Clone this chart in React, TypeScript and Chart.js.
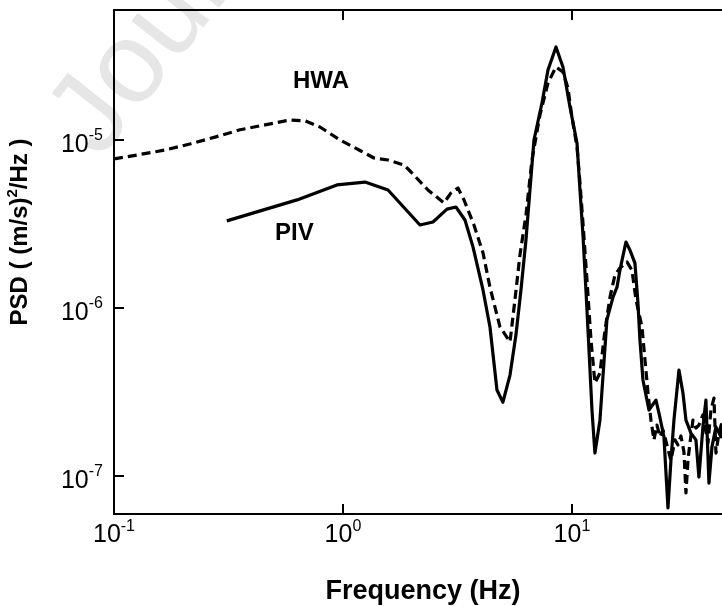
import { useEffect, useRef } from 'react';
import { Chart, registerables } from 'chart.js';

Chart.register(...registerables);

// ---- data ----
const hwaFreq = [
  0.1, 0.126, 0.167, 0.2147, 0.2761, 0.3549, 0.4563, 0.587, 0.6823, 0.7934,
  0.97, 1.198, 1.366, 1.573, 1.846, 1.982, 2.35, 2.761, 2.962, 3.178,
  3.376, 3.733, 4.088, 4.385, 4.849, 5.363, 5.637, 5.928, 6.297, 6.689,
  7.249, 7.857, 8.515, 9.135, 9.606, 10.0, 10.52, 10.84, 11.17, 11.63,
  12.11, 12.6, 13.25, 13.94, 14.66, 15.41, 16.2, 17.39, 18.28, 19.04,
  20.22, 20.84, 21.47, 22.13, 22.81, 23.51, 24.23, 24.97, 25.99, 27.06,
  28.18, 29.04, 29.92, 30.84, 31.47, 32.11, 32.76, 33.76, 34.79, 35.85,
  37.33, 38.47, 39.26, 40.46, 41.7, 42.55, 43.85, 45.19, 47.05, 48.98, 51.0,
];
const hwaPsd = [
  7.71e-6, 8.14e-6, 8.72e-6, 9.47e-6, 1.04e-5, 1.15e-5, 1.23e-5, 1.315e-5, 1.3e-5, 1.195e-5,
  1.0e-5, 8.6e-6, 7.81e-6, 7.6e-6, 7.1e-6, 6.45e-6, 5.04e-6, 4.22e-6, 4.84e-6, 5.18e-6,
  4.4e-6, 3.12e-6, 2.13e-6, 1.33e-6, 7.71e-7, 6.28e-7, 1.12e-6, 2.07e-6, 3.58e-6, 7.6e-6,
  1.41e-5, 2.18e-5, 2.72e-5, 2.54e-5, 2.04e-5, 1.37e-5, 9.09e-6, 5.55e-6, 3.21e-6, 1.47e-6,
  6.45e-7, 3.58e-7, 4.1e-7, 7.39e-7, 1.16e-6, 1.57e-6, 1.73e-6, 1.88e-6, 1.68e-6, 1.12e-6,
  7.71e-7, 4.9e-7, 3.16e-7, 2.15e-7, 1.64e-7, 2.01e-7, 1.71e-7, 1.88e-7, 1.53e-7, 1.24e-7,
  1.64e-7, 1.53e-7, 1.73e-7, 1.39e-7, 7.93e-8, 1.24e-7, 1.57e-7, 2.15e-7, 1.93e-7, 2.01e-7,
  2.31e-7, 1.83e-7, 1.57e-7, 2.47e-7, 2.91e-7, 1.37e-7, 1.8e-7, 2.09e-7, 1.43e-7, 2.21e-7, 1.64e-7,
];

const pivFreq = [
  0.311, 0.63, 0.941, 1.248, 1.573, 2.169, 2.472, 2.846, 3.114, 3.41,
  3.696, 4.088, 4.385, 4.704, 4.995, 5.363, 5.693, 5.988, 6.297, 6.556,
  6.826, 7.396, 7.857, 8.515, 9.135, 9.802, 10.52, 10.84, 11.17, 11.51,
  11.87, 12.23, 12.6, 13.25, 14.21, 15.11, 15.73, 16.2, 17.21, 17.92,
  18.84, 19.42, 19.81, 20.42, 21.69, 23.27, 23.99, 25.22, 26.26, 27.06,
  27.89, 29.33, 30.53, 31.47, 33.09, 34.79, 35.85, 37.33, 38.47, 39.65,
  40.88, 42.55, 44.74, 46.57, 48.5, 50.5,
];
const pivPsd = [
  3.3e-6, 4.4e-6, 5.4e-6, 5.62e-6, 5.04e-6, 3.12e-6, 3.25e-6, 3.88e-6, 3.99e-6, 3.34e-6,
  2.31e-6, 1.28e-6, 7.71e-7, 3.25e-7, 2.75e-7, 3.99e-7, 6.9e-7, 1.28e-6, 2.54e-6, 5.04e-6,
  1.0e-5, 1.66e-5, 2.61e-5, 3.58e-5, 2.72e-5, 1.57e-5, 9.6e-6, 5.04e-6, 2.72e-6, 1.28e-6,
  5.62e-7, 2.47e-7, 1.37e-7, 2.15e-7, 8.49e-7, 1.16e-6, 1.33e-6, 1.68e-6, 2.47e-6, 2.21e-6,
  1.85e-6, 1.07e-6, 6.45e-7, 3.73e-7, 2.47e-7, 2.83e-7, 2.37e-7, 1.71e-7, 6.45e-8, 1.24e-7,
  2.15e-7, 4.27e-7, 3.12e-7, 2.15e-7, 1.8e-7, 1.64e-7, 9.86e-8, 1.96e-7, 2.83e-7, 9.08e-8,
  1.49e-7, 1.96e-7, 1.71e-7, 2.15e-7, 1.43e-7, 1.88e-7,
];

const xTickValues = [0.1, 1, 10];
const xTickExps = ['-1', '0', '1'];
const yTickValues = [1e-7, 1e-6, 1e-5];
const yTickExps = ['-7', '-6', '-5'];

const xMin = 0.1;
const xMax = 50;
const yMin = 5.94e-8;
const yMax = 5.94e-5;

const hwaLabel = { text: 'HWA', x: 0.605, y: 2.04e-5 };
const pivLabel = { text: 'PIV', x: 0.505, y: 2.54e-6 };

const xTitle = 'Frequency (Hz)';
const yTitleParts = ['PSD ( (m/s)', '2', '/Hz )'];
const watermark = 'Journal Pre-proof';

const W = 760;
const H = 606;
const FONT = '"Liberation Sans", Arial, Helvetica, sans-serif';

const decor = {
  id: 'decor',
  beforeDatasetsDraw(chart: any) {
    const ctx = chart.ctx as CanvasRenderingContext2D;
    ctx.save();
    ctx.translate(100, 160);
    ctx.rotate((-52 * Math.PI) / 180);
    ctx.fillStyle = '#e6e6e6';
    ctx.font = `115px ${FONT}`;
    ctx.textAlign = 'left';
    ctx.textBaseline = 'alphabetic';
    ctx.fillText(watermark, 0, 0);
    ctx.restore();
  },
  afterDraw(chart: any) {
    const ctx = chart.ctx as CanvasRenderingContext2D;
    const { left, right, top, bottom } = chart.chartArea;
    const xs = chart.scales.x;
    const ys = chart.scales.y;
    ctx.save();
    ctx.strokeStyle = '#000';
    ctx.fillStyle = '#000';
    ctx.lineWidth = 2;
    ctx.lineCap = 'square';
    ctx.beginPath();
    ctx.moveTo(left, top);
    ctx.lineTo(right, top);
    ctx.lineTo(right, bottom);
    ctx.lineTo(left, bottom);
    ctx.closePath();
    ctx.stroke();

    ctx.lineCap = 'butt';
    const tl = 10;
    xTickValues.forEach((v) => {
      const px = Math.round(xs.getPixelForValue(v));
      if (px <= left + 1) return;
      ctx.beginPath();
      ctx.moveTo(px, bottom);
      ctx.lineTo(px, bottom - tl);
      ctx.moveTo(px, top);
      ctx.lineTo(px, top + tl);
      ctx.stroke();
    });
    yTickValues.forEach((v) => {
      const py = Math.round(ys.getPixelForValue(v));
      ctx.beginPath();
      ctx.moveTo(left, py);
      ctx.lineTo(left + tl, py);
      ctx.moveTo(right, py);
      ctx.lineTo(right - tl, py);
      ctx.stroke();
    });

    const baseFont = `25px ${FONT}`;
    const expFont = `16px ${FONT}`;
    ctx.textBaseline = 'alphabetic';
    ctx.textAlign = 'left';
    // x tick labels
    xTickValues.forEach((v, i) => {
      const px = xs.getPixelForValue(v);
      ctx.font = baseFont;
      const bw = ctx.measureText('10').width;
      ctx.font = expFont;
      const ew = ctx.measureText(xTickExps[i]).width;
      const x0 = px - (bw + ew) / 2;
      ctx.font = baseFont;
      ctx.fillText('10', x0, bottom + 28);
      ctx.font = expFont;
      ctx.fillText(xTickExps[i], x0 + bw, bottom + 17);
    });
    // y tick labels
    yTickValues.forEach((v, i) => {
      const py = ys.getPixelForValue(v);
      ctx.font = baseFont;
      const bw = ctx.measureText('10').width;
      ctx.font = expFont;
      const ew = ctx.measureText(yTickExps[i]).width;
      const xr = left - 11;
      ctx.font = baseFont;
      ctx.fillText('10', xr - ew - bw, py + 12);
      ctx.font = expFont;
      ctx.fillText(yTickExps[i], xr - ew, py + 0);
    });

    // x title
    ctx.font = `bold 27px ${FONT}`;
    ctx.textAlign = 'center';
    ctx.fillText(xTitle, (left + right) / 2, 599);

    // y title (rotated, with superscript)
    ctx.save();
    ctx.translate(27, 232);
    ctx.rotate(-Math.PI / 2);
    ctx.textAlign = 'left';
    const tf = `bold 24px ${FONT}`;
    const sf = `bold 15px ${FONT}`;
    ctx.font = tf;
    const w0 = ctx.measureText(yTitleParts[0]).width;
    const w2 = ctx.measureText(yTitleParts[2]).width;
    ctx.font = sf;
    const w1 = ctx.measureText(yTitleParts[1]).width;
    let x = -(w0 + w1 + w2) / 2;
    ctx.font = tf;
    ctx.fillText(yTitleParts[0], x, 0);
    x += w0;
    ctx.font = sf;
    ctx.fillText(yTitleParts[1], x, -10);
    x += w1;
    ctx.font = tf;
    ctx.fillText(yTitleParts[2], x, 0);
    ctx.restore();

    // curve labels
    ctx.font = `bold 24px ${FONT}`;
    ctx.textAlign = 'left';
    [hwaLabel, pivLabel].forEach((l) => {
      ctx.fillText(l.text, xs.getPixelForValue(l.x), ys.getPixelForValue(l.y));
    });
    ctx.restore();
  },
};

export default function App() {
  const ref = useRef<HTMLCanvasElement>(null);
  useEffect(() => {
    document.body.style.margin = '0';
    const canvas = ref.current!;
    const chart = new Chart(canvas, {
      type: 'scatter',
      data: {
        datasets: [
          {
            label: 'HWA',
            data: hwaFreq.map((f, i) => ({ x: f, y: hwaPsd[i] })),
            showLine: true,
            borderColor: '#000',
            backgroundColor: '#000',
            borderWidth: 3.2,
            borderDash: [9, 5],
            borderJoinStyle: 'round',
            pointRadius: 0,
            fill: false,
          },
          {
            label: 'PIV',
            data: pivFreq.map((f, i) => ({ x: f, y: pivPsd[i] })),
            showLine: true,
            borderColor: '#000',
            backgroundColor: '#000',
            borderWidth: 3.2,
            borderJoinStyle: 'round',
            pointRadius: 0,
            fill: false,
          },
        ],
      } as any,
      options: {
        responsive: false,
        maintainAspectRatio: false,
        animation: false,
        events: [],
        layout: { padding: { left: 114, top: 10, right: W - 732, bottom: H - 514 } },
        plugins: { legend: { display: false }, tooltip: { enabled: false } },
        scales: {
          x: { type: 'logarithmic', display: false, min: xMin, max: xMax },
          y: { type: 'logarithmic', display: false, min: yMin, max: yMax },
        },
      } as any,
      plugins: [decor],
    });
    return () => chart.destroy();
  }, []);
  return (
    <div style={{ width: 722, height: 606, overflow: 'hidden', position: 'relative' }}>
      <canvas ref={ref} width={W} height={H} style={{ display: 'block' }} />
    </div>
  );
}
